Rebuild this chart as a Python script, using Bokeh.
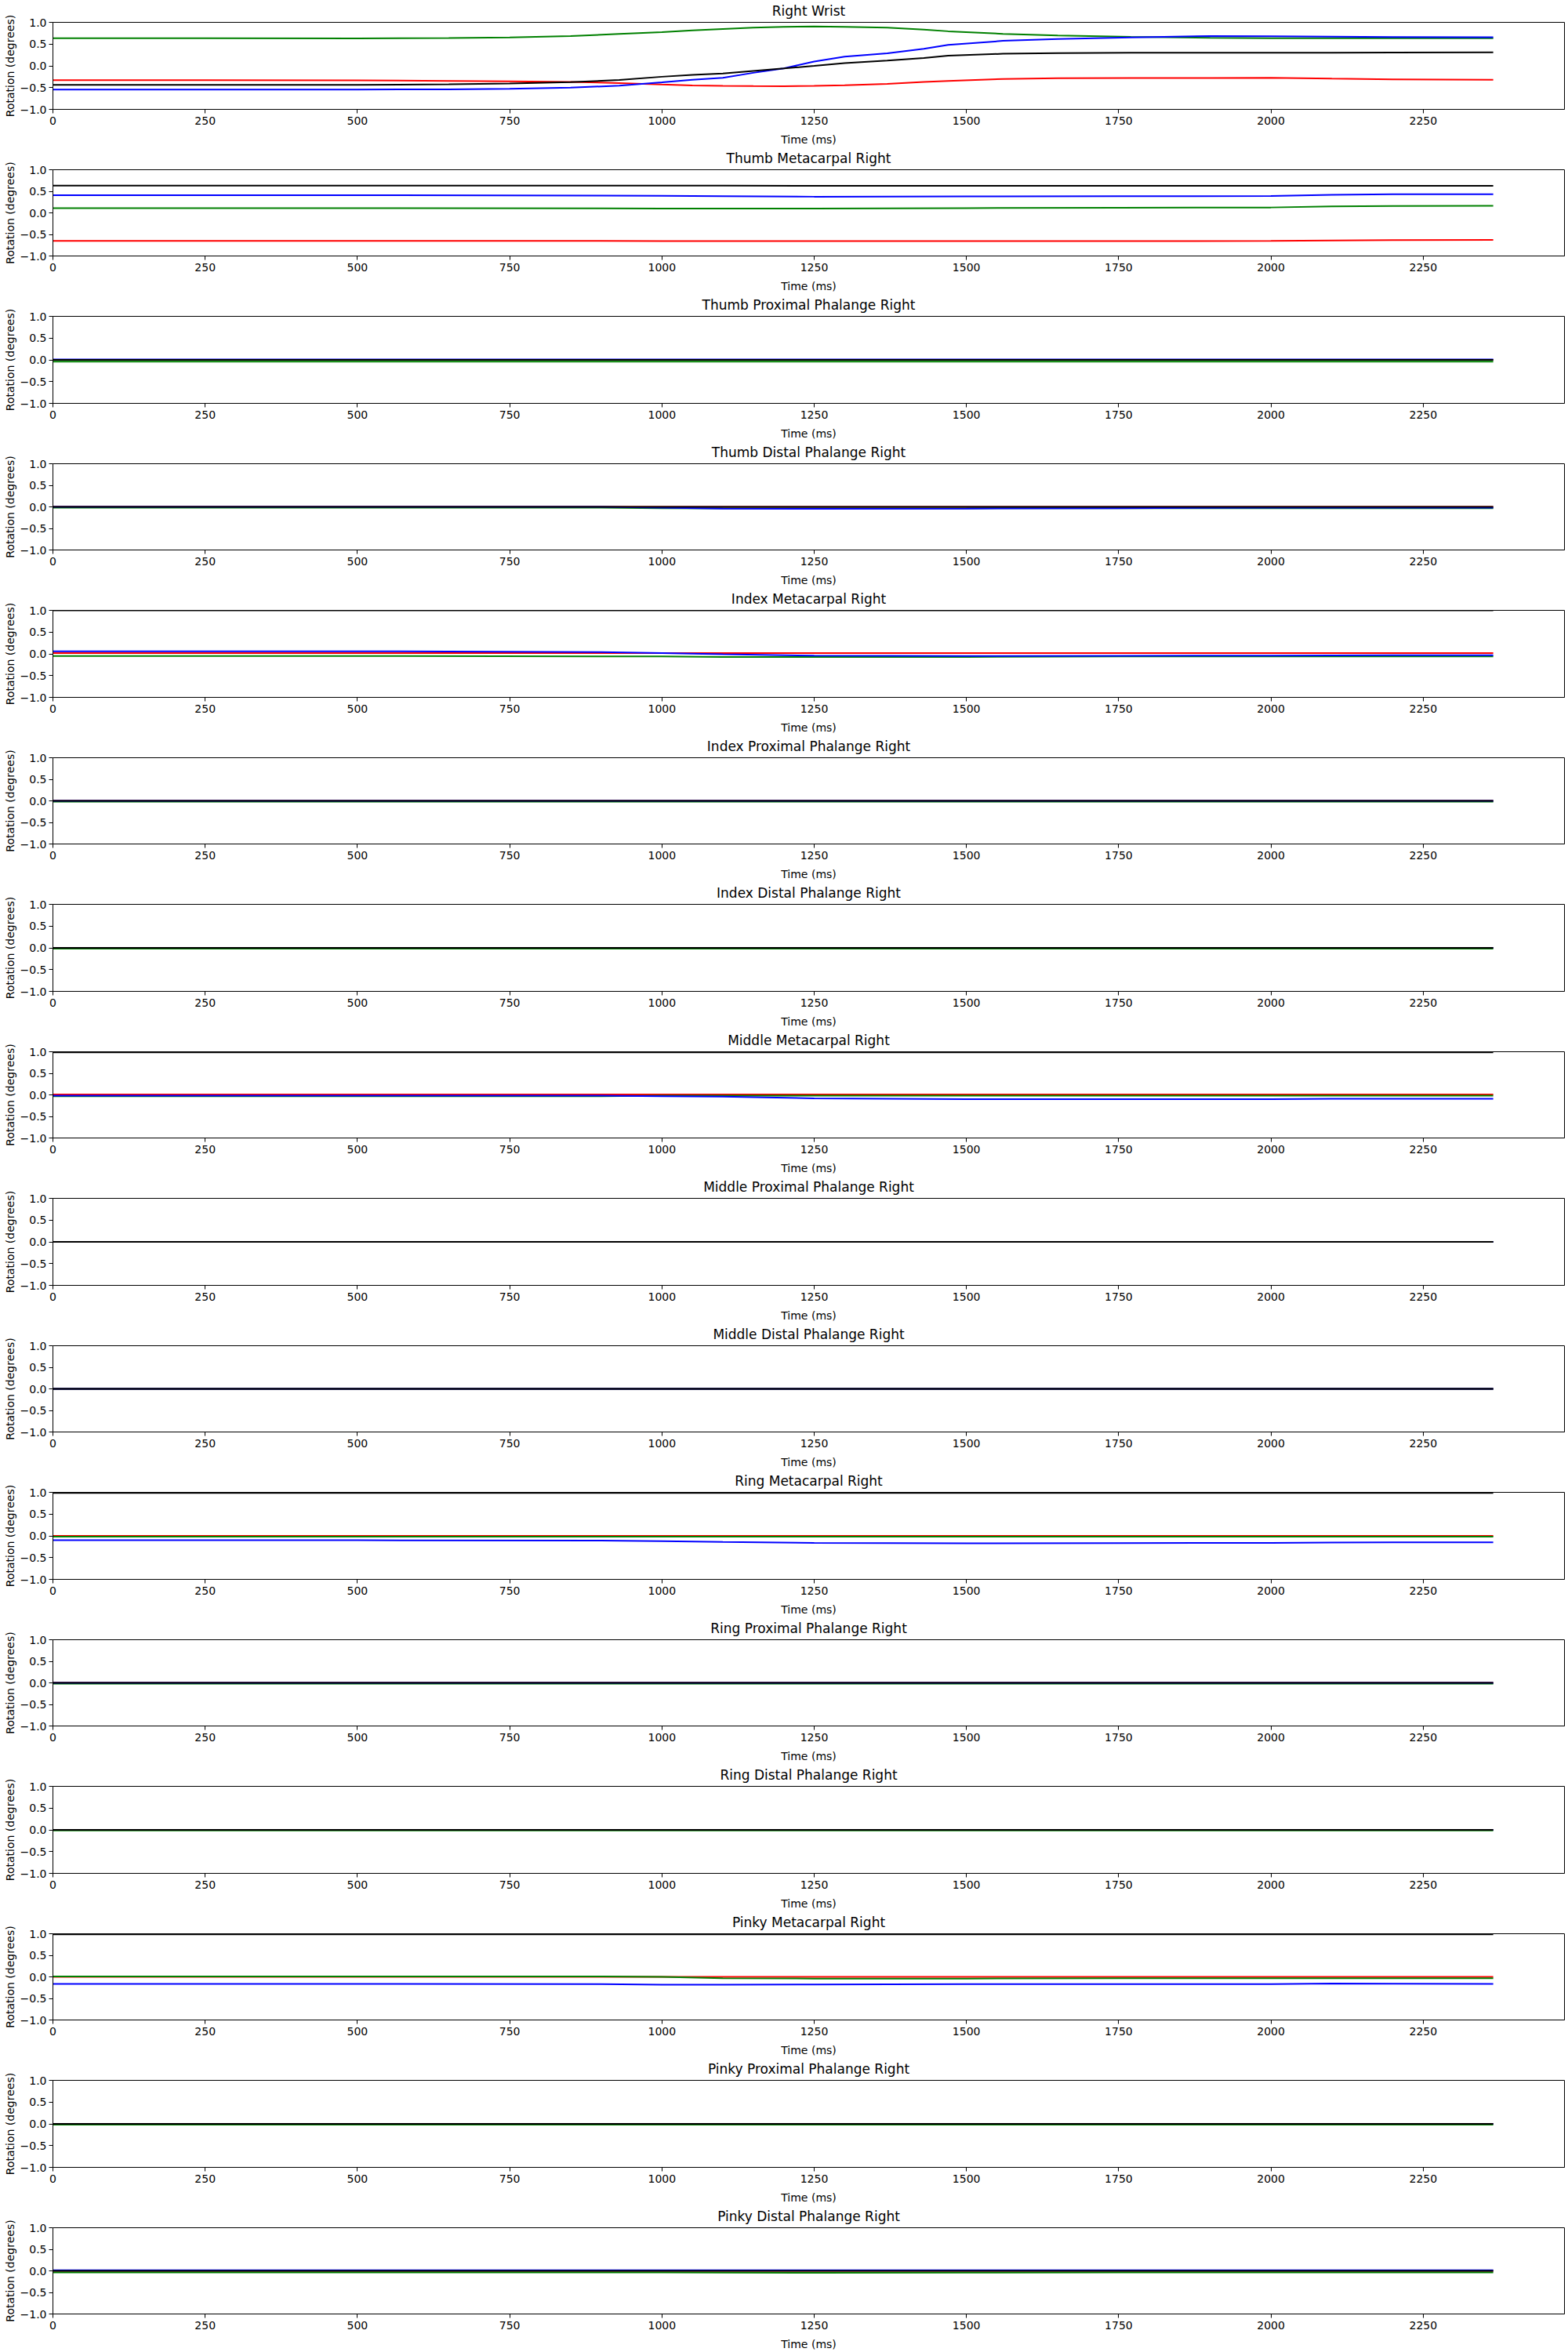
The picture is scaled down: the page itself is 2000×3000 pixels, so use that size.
from bokeh.plotting import figure
from bokeh.layouts import column
from bokeh.models import Range1d, FixedTicker
from bokeh.embed import file_html
from bokeh.resources import INLINE

# ---------------- data ----------------
panel_titles = [
    "Right Wrist", "Thumb Metacarpal Right", "Thumb Proximal Phalange Right",
    "Thumb Distal Phalange Right", "Index Metacarpal Right", "Index Proximal Phalange Right",
    "Index Distal Phalange Right", "Middle Metacarpal Right", "Middle Proximal Phalange Right",
    "Middle Distal Phalange Right", "Ring Metacarpal Right", "Ring Proximal Phalange Right",
    "Ring Distal Phalange Right", "Pinky Metacarpal Right", "Pinky Proximal Phalange Right",
    "Pinky Distal Phalange Right",
]

x_ticks = [0, 250, 500, 750, 1000, 1250, 1500, 1750, 2000, 2250]
y_ticks = [-1.0, -0.5, 0.0, 0.5, 1.0]
y_tick_labels = ["\u22121.0", "\u22120.5", "0.0", "0.5", "1.0"]

# detailed time base for the wrist
time_wrist = [0, 250, 500, 650, 750, 850, 930, 1000, 1050, 1100, 1150, 1200, 1250,
              1300, 1370, 1430, 1470, 1560, 1650, 1770, 1900, 2000, 2100, 2200, 2365]
wrist_x = [-0.33, -0.33, -0.335, -0.345, -0.355, -0.37, -0.395, -0.43, -0.452, -0.46, -0.465,
           -0.467, -0.46, -0.445, -0.415, -0.37, -0.345, -0.30, -0.285, -0.28, -0.28, -0.275,
           -0.295, -0.31, -0.32]
wrist_y = [0.635, 0.633, 0.632, 0.64, 0.655, 0.685, 0.733, 0.775, 0.815, 0.846, 0.878, 0.895,
           0.905, 0.898, 0.88, 0.835, 0.795, 0.735, 0.70, 0.668, 0.642, 0.636, 0.636, 0.636, 0.636]
wrist_z = [-0.545, -0.545, -0.545, -0.54, -0.525, -0.50, -0.457, -0.38, -0.32, -0.275, -0.16,
           -0.06, 0.10, 0.21, 0.29, 0.39, 0.48, 0.575, 0.615, 0.655, 0.685, 0.68, 0.67, 0.662,
           0.656]
wrist_w = [-0.437, -0.437, -0.435, -0.425, -0.405, -0.375, -0.325, -0.25, -0.205, -0.175,
           -0.115, -0.06, 0.0, 0.065, 0.12, 0.18, 0.235, 0.278, 0.295, 0.30, 0.30, 0.30, 0.30,
           0.305, 0.31]

# coarse time base for the other joints
time_joint = [0, 500, 900, 1000, 1100, 1250, 1500, 1750, 2000, 2100, 2200, 2365]

thumb_mc_x = [-0.65, -0.65, -0.652, -0.655, -0.655, -0.656, -0.656, -0.655, -0.65, -0.64, -0.632, -0.628]
thumb_mc_y = [0.11, 0.11, 0.105, 0.10, 0.10, 0.10, 0.11, 0.12, 0.125, 0.15, 0.16, 0.165]
thumb_mc_z = [0.41, 0.41, 0.40, 0.395, 0.385, 0.375, 0.38, 0.385, 0.39, 0.42, 0.43, 0.432]
thumb_mc_w = [0.63, 0.63, 0.63, 0.63, 0.63, 0.628, 0.628, 0.628, 0.628, 0.628, 0.627, 0.626]

thumb_px_x = [0.0, 0.0, 0.0, 0.0, 0.0, 0.0, 0.0, 0.0, 0.0, 0.0, 0.0, 0.0]
thumb_px_y = [-0.04, -0.04, -0.04, -0.04, -0.04, -0.04, -0.04, -0.04, -0.04, -0.04, -0.04, -0.04]
thumb_px_z = [0.01, 0.01, 0.01, 0.01, 0.01, 0.01, 0.01, 0.01, 0.01, 0.01, 0.01, 0.01]
thumb_px_w = [0.0, 0.0, 0.0, 0.0, 0.0, 0.0, 0.0, 0.0, 0.0, 0.0, 0.0, 0.0]

thumb_ds_x = [0.0, 0.0, 0.0, 0.0, 0.0, 0.0, 0.0, 0.0, 0.0, 0.0, 0.0, 0.0]
thumb_ds_y = [-0.02, -0.02, -0.02, -0.03, -0.035, -0.035, -0.035, -0.03, -0.03, -0.03, -0.03, -0.03]
thumb_ds_z = [0.0, 0.0, 0.0, -0.02, -0.04, -0.045, -0.04, -0.03, -0.02, -0.02, -0.02, -0.02]
thumb_ds_w = [0.0, 0.0, 0.0, 0.0, 0.0, 0.0, 0.0, 0.0, 0.0, 0.0, 0.0, 0.0]

index_mc_x = [0.02, 0.02, 0.02, 0.02, 0.02, 0.02, 0.02, 0.02, 0.02, 0.02, 0.02, 0.02]
index_mc_y = [-0.05, -0.05, -0.06, -0.06, -0.07, -0.07, -0.07, -0.06, -0.06, -0.06, -0.06, -0.06]
index_mc_z = [0.06, 0.06, 0.04, 0.02, -0.01, -0.04, -0.05, -0.045, -0.04, -0.035, -0.03, -0.03]
index_mc_w = [1.0, 1.0, 1.0, 1.0, 1.0, 1.0, 1.0, 1.0, 1.0, 1.0, 1.0, 1.0]

index_px_x = [0.0, 0.0, 0.0, 0.0, 0.0, 0.0, 0.0, 0.0, 0.0, 0.0, 0.0, 0.0]
index_px_y = [-0.02, -0.02, -0.02, -0.02, -0.02, -0.02, -0.02, -0.02, -0.02, -0.02, -0.02, -0.02]
index_px_z = [0.0, 0.0, 0.0, 0.0, 0.0, 0.0, 0.0, 0.0, 0.0, 0.0, 0.0, 0.0]
index_px_w = [0.0, 0.0, 0.0, 0.0, 0.0, 0.0, 0.0, 0.0, 0.0, 0.0, 0.0, 0.0]

index_ds_x = [0.0, 0.0, 0.0, 0.0, 0.0, 0.0, 0.0, 0.0, 0.0, 0.0, 0.0, 0.0]
index_ds_y = [-0.02, -0.02, -0.02, -0.02, -0.02, -0.02, -0.02, -0.02, -0.02, -0.02, -0.02, -0.02]
index_ds_z = [0.0, 0.0, 0.0, 0.0, 0.0, 0.0, 0.0, 0.0, 0.0, 0.0, 0.0, 0.0]
index_ds_w = [0.0, 0.0, 0.0, 0.0, 0.0, 0.0, 0.0, 0.0, 0.0, 0.0, 0.0, 0.0]

middle_mc_x = [0.01, 0.01, 0.01, 0.01, 0.01, 0.01, 0.01, 0.01, 0.01, 0.01, 0.01, 0.01]
middle_mc_y = [-0.03, -0.03, -0.03, -0.02, -0.02, -0.02, -0.02, -0.02, -0.02, -0.02, -0.02, -0.02]
middle_mc_z = [-0.02, -0.02, -0.02, -0.03, -0.04, -0.08, -0.10, -0.10, -0.10, -0.09, -0.09, -0.09]
middle_mc_w = [0.988, 0.988, 0.988, 0.988, 0.988, 0.988, 0.988, 0.988, 0.988, 0.988, 0.988, 0.988]

middle_px_x = [0.0, 0.0, 0.0, 0.0, 0.0, 0.0, 0.0, 0.0, 0.0, 0.0, 0.0, 0.0]
middle_px_y = [0.0, 0.0, 0.0, 0.0, 0.0, 0.0, 0.0, 0.0, 0.0, 0.0, 0.0, 0.0]
middle_px_z = [0.0, 0.0, 0.0, 0.0, 0.0, 0.0, 0.0, 0.0, 0.0, 0.0, 0.0, 0.0]
middle_px_w = [0.0, 0.0, 0.0, 0.0, 0.0, 0.0, 0.0, 0.0, 0.0, 0.0, 0.0, 0.0]

middle_ds_x = [0.0, 0.0, 0.0, 0.0, 0.0, 0.0, 0.0, 0.0, 0.0, 0.0, 0.0, 0.0]
middle_ds_y = [0.0, 0.0, 0.0, 0.0, 0.0, 0.0, 0.0, 0.0, 0.0, 0.0, 0.0, 0.0]
middle_ds_z = [0.0, 0.0, 0.0, 0.0, 0.0, 0.0, 0.0, 0.0, 0.0, 0.0, 0.0, 0.0]
middle_ds_w = [0.0, 0.0, 0.0, 0.0, 0.0, 0.0, 0.0, 0.0, 0.0, 0.0, 0.0, 0.0]

ring_mc_x = [0.0, 0.0, 0.0, 0.0, 0.0, 0.0, 0.0, 0.0, 0.0, 0.0, 0.0, 0.0]
ring_mc_y = [-0.02, -0.02, -0.02, -0.02, -0.02, -0.02, -0.02, -0.02, -0.02, -0.02, -0.02, -0.02]
ring_mc_z = [-0.10, -0.10, -0.11, -0.12, -0.14, -0.16, -0.17, -0.165, -0.16, -0.155, -0.15, -0.15]
ring_mc_w = [0.988, 0.988, 0.988, 0.988, 0.988, 0.988, 0.988, 0.988, 0.988, 0.988, 0.988, 0.988]

ring_px_x = [0.0, 0.0, 0.0, 0.0, 0.0, 0.0, 0.0, 0.0, 0.0, 0.0, 0.0, 0.0]
ring_px_y = [-0.02, -0.02, -0.02, -0.02, -0.02, -0.02, -0.02, -0.02, -0.02, -0.02, -0.02, -0.02]
ring_px_z = [0.0, 0.0, 0.0, 0.0, 0.0, 0.0, 0.0, 0.0, 0.0, 0.0, 0.0, 0.0]
ring_px_w = [0.0, 0.0, 0.0, 0.0, 0.0, 0.0, 0.0, 0.0, 0.0, 0.0, 0.0, 0.0]

ring_ds_x = [0.0, 0.0, 0.0, 0.0, 0.0, 0.0, 0.0, 0.0, 0.0, 0.0, 0.0, 0.0]
ring_ds_y = [-0.015, -0.015, -0.015, -0.015, -0.015, -0.015, -0.015, -0.015, -0.015, -0.015, -0.015, -0.015]
ring_ds_z = [0.0, 0.0, 0.0, 0.0, 0.0, 0.0, 0.0, 0.0, 0.0, 0.0, 0.0, 0.0]
ring_ds_w = [0.0, 0.0, 0.0, 0.0, 0.0, 0.0, 0.0, 0.0, 0.0, 0.0, 0.0, 0.0]

pinky_mc_x = [0.0, 0.0, 0.0, 0.0, 0.0, 0.0, 0.0, 0.0, 0.0, 0.0, 0.0, 0.0]
pinky_mc_y = [0.01, 0.01, 0.01, 0.0, -0.03, -0.04, -0.04, -0.03, -0.03, -0.03, -0.03, -0.03]
pinky_mc_z = [-0.165, -0.165, -0.17, -0.18, -0.18, -0.175, -0.17, -0.17, -0.17, -0.155, -0.16, -0.165]
pinky_mc_w = [0.988, 0.988, 0.988, 0.988, 0.988, 0.988, 0.988, 0.988, 0.988, 0.988, 0.988, 0.988]

pinky_px_x = [0.0, 0.0, 0.0, 0.0, 0.0, 0.0, 0.0, 0.0, 0.0, 0.0, 0.0, 0.0]
pinky_px_y = [-0.02, -0.02, -0.02, -0.02, -0.02, -0.02, -0.02, -0.02, -0.02, -0.02, -0.02, -0.02]
pinky_px_z = [0.0, 0.0, 0.0, 0.0, 0.0, 0.0, 0.0, 0.0, 0.0, 0.0, 0.0, 0.0]
pinky_px_w = [0.0, 0.0, 0.0, 0.0, 0.0, 0.0, 0.0, 0.0, 0.0, 0.0, 0.0, 0.0]

pinky_ds_x = [0.0, 0.0, 0.0, 0.0, 0.0, 0.0, 0.0, 0.0, 0.0, 0.0, 0.0, 0.0]
pinky_ds_y = [-0.035, -0.035, -0.035, -0.035, -0.04, -0.045, -0.04, -0.035, -0.035, -0.035, -0.035, -0.035]
pinky_ds_z = [0.012, 0.012, 0.012, 0.012, 0.012, 0.012, 0.012, 0.012, 0.012, 0.012, 0.012, 0.012]
pinky_ds_w = [0.0, 0.0, 0.0, 0.0, 0.0, 0.0, 0.0, 0.0, 0.0, 0.0, 0.0, 0.0]

panel_series = [
    (time_wrist, wrist_x, wrist_y, wrist_z, wrist_w),
    (time_joint, thumb_mc_x, thumb_mc_y, thumb_mc_z, thumb_mc_w),
    (time_joint, thumb_px_x, thumb_px_y, thumb_px_z, thumb_px_w),
    (time_joint, thumb_ds_x, thumb_ds_y, thumb_ds_z, thumb_ds_w),
    (time_joint, index_mc_x, index_mc_y, index_mc_z, index_mc_w),
    (time_joint, index_px_x, index_px_y, index_px_z, index_px_w),
    (time_joint, index_ds_x, index_ds_y, index_ds_z, index_ds_w),
    (time_joint, middle_mc_x, middle_mc_y, middle_mc_z, middle_mc_w),
    (time_joint, middle_px_x, middle_px_y, middle_px_z, middle_px_w),
    (time_joint, middle_ds_x, middle_ds_y, middle_ds_z, middle_ds_w),
    (time_joint, ring_mc_x, ring_mc_y, ring_mc_z, ring_mc_w),
    (time_joint, ring_px_x, ring_px_y, ring_px_z, ring_px_w),
    (time_joint, ring_ds_x, ring_ds_y, ring_ds_z, ring_ds_w),
    (time_joint, pinky_mc_x, pinky_mc_y, pinky_mc_z, pinky_mc_w),
    (time_joint, pinky_px_x, pinky_px_y, pinky_px_z, pinky_px_w),
    (time_joint, pinky_ds_x, pinky_ds_y, pinky_ds_z, pinky_ds_w),
]
line_colors = ["red", "green", "blue", "black"]

# ---------------- plotting ----------------
FONT = "DejaVu Sans"
figs = []
for i, (title, series) in enumerate(zip(panel_titles, panel_series)):
    h = 188 if i % 2 == 0 else 187
    p = figure(width=2000, height=h, output_backend="svg", toolbar_location=None,
               x_range=Range1d(0, 2482), y_range=Range1d(-1, 1),
               min_border_left=67, min_border_right=5, min_border_top=27,
               min_border_bottom=h - 27 - 113, title=title)
    p.title.align = "center"
    p.title.vertical_align = "top"
    p.title.text_font = FONT
    p.title.text_font_size = "17px"
    p.title.text_font_style = "normal"
    p.title.text_color = "black"
    p.title.standoff = 6
    p.grid.visible = False
    p.outline_line_color = "black"
    p.outline_line_width = 1
    p.background_fill_color = "white"
    p.border_fill_color = "white"

    for ax in (p.xaxis[0], p.yaxis[0]):
        ax.axis_line_color = "black"
        ax.major_tick_line_color = "black"
        ax.minor_tick_line_color = None
        ax.major_tick_out = 5
        ax.major_tick_in = 0
        ax.major_label_standoff = 4
        ax.major_label_text_font = FONT
        ax.major_label_text_font_size = "14px"
        ax.major_label_text_color = "black"
        ax.axis_label_text_font = FONT
        ax.axis_label_text_font_size = "14px"
        ax.axis_label_text_font_style = "normal"
        ax.axis_label_text_color = "black"
    p.xaxis.ticker = FixedTicker(ticks=x_ticks)
    p.yaxis.ticker = FixedTicker(ticks=y_ticks)
    p.yaxis.major_label_overrides = {v: s for v, s in zip(y_ticks, y_tick_labels)}
    p.yaxis.major_label_standoff = 3
    p.xaxis.axis_label = "Time (ms)"
    p.yaxis.axis_label = "Rotation (degrees)"
    p.xaxis.axis_label_standoff = 8
    p.yaxis.axis_label_standoff = 2

    t = series[0]
    for vals, col in zip(series[1:], line_colors):
        p.line(t, vals, line_color=col, line_width=2)
    figs.append(p)

layout = column(*figs, spacing=0)
open("out.html", "w").write(file_html(layout, INLINE))
